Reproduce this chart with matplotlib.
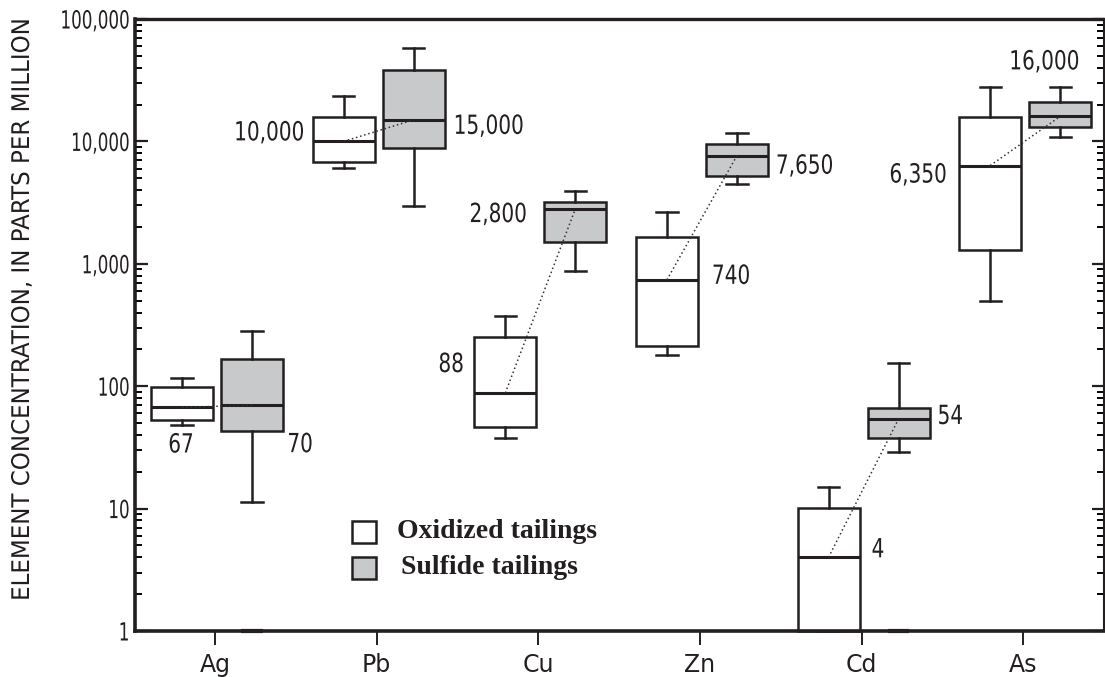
import matplotlib
matplotlib.use("Agg")
import matplotlib.pyplot as plt
from matplotlib.ticker import FixedLocator, LogLocator, NullFormatter
from matplotlib.patheffects import AbstractPathEffect
from matplotlib.transforms import Affine2D
from matplotlib.patches import Rectangle

# ---------------- data ----------------
elements = ['Ag', 'Pb', 'Cu', 'Zn', 'Cd', 'As']

ox_whislo = [48, 6100, 38, 180, 1, 500]
ox_q1 = [53, 6830, 46, 213, 1, 1300]
ox_med = [67, 10000, 88, 740, 4, 6350]
ox_q3 = [98, 15900, 251, 1645, 10.2, 15900]
ox_whishi = [116, 23600, 375, 2670, 15.1, 27700]

su_whislo = [11.4, 2980, 873, 4460, 28.8, 10800]
su_q1 = [43, 8790, 1517, 5210, 37.9, 13000]
su_med = [70, 15000, 2800, 7650, 54, 16000]
su_q3 = [166, 38300, 3210, 9530, 66.7, 21100]
su_whishi = [285, 57600, 3940, 11650, 154, 27700]

ox_labels = ['67', '10,000', '88', '740', '4', '6,350']
su_labels = ['70', '15,000', '2,800', '7,650', '54', '16,000']

# marks at the bottom of the scale (value 1)
floor_marks_sulfide = ['Ag', 'Cd']

yticks = [1, 10, 100, 1000, 10000, 100000]
ytick_labels = ['1', '10', '100', '1,000', '10,000', '100,000']

# ---------------- style ----------------
SANS = ['DejaVu Sans']
SERIF = ['Liberation Serif', 'DejaVu Serif']
GRAY = '#c8c9cb'
EDGE = '#231f20'


class Squeeze(AbstractPathEffect):
    """Draw text glyphs horizontally condensed (condensed-font look)."""

    def __init__(self, sx, anchor='left'):
        super().__init__()
        self.sx = sx
        self.anchor = anchor

    def draw_path(self, renderer, gc, tpath, affine, rgbFace=None):
        ext = tpath.get_extents()
        if self.anchor == 'right':
            a = ext.x1
        elif self.anchor == 'center':
            a = (ext.x0 + ext.x1) / 2
        else:
            a = 0
        t = Affine2D().translate(-a, 0).scale(self.sx, 1).translate(a, 0) + affine
        renderer.draw_path(gc, tpath, t, rgbFace)


fig = plt.figure(figsize=(11.05, 6.77), dpi=100)
ax = fig.add_axes([135 / 1105, 1 - 631 / 677, (1104 - 135) / 1105, (631 - 19) / 677])

OX_OFF, SU_OFF, WIDTH = -0.204, 0.229, 0.384


def stats(lo, q1, med, q3, hi):
    return [dict(whislo=a, q1=b, med=c, q3=d, whishi=e, fliers=[])
            for a, b, c, d, e in zip(lo, q1, med, q3, hi)]


ox_stats = stats(ox_whislo, ox_q1, ox_med, ox_q3, ox_whishi)
su_stats = stats(su_whislo, su_q1, su_med, su_q3, su_whishi)
xs = list(range(len(elements)))
ox_pos = [x + OX_OFF for x in xs]
su_pos = [x + SU_OFF for x in xs]

common = dict(widths=WIDTH, patch_artist=True, showfliers=False,
              whiskerprops=dict(color=EDGE, lw=1.8),
              capprops=dict(color=EDGE, lw=1.8),
              medianprops=dict(color=EDGE, lw=2.2),
              manage_ticks=False)
bo = ax.bxp(ox_stats, positions=ox_pos,
            boxprops=dict(facecolor='white', edgecolor=EDGE, lw=1.8), **common)
bs = ax.bxp(su_stats, positions=su_pos,
            boxprops=dict(facecolor=GRAY, edgecolor=EDGE, lw=1.8), **common)
for b in (bo, bs):
    for c in b['caps']:
        x0, x1 = c.get_xdata()
        m = (x0 + x1) / 2
        c.set_xdata([m - 0.066, m + 0.066])
    for c in b['caps'] + b['whiskers'] + b['medians'] + b['boxes']:
        c.set_clip_on(False)
    for m in b['medians']:
        m.set_zorder(4)

# dotted lines between medians
for i in xs:
    ax.plot([ox_pos[i], su_pos[i]], [ox_med[i], su_med[i]], ls=(0, (1.0, 1.8)),
            color='#333333', lw=1.1, zorder=5)

# floor marks
for el in floor_marks_sulfide:
    i = elements.index(el)
    ax.plot([su_pos[i] - 0.066, su_pos[i] + 0.066], [1, 1], color=EDGE, lw=3,
            clip_on=False, zorder=6, solid_capstyle='butt')

# median labels (offsets in pixels)
ox_off = [(-1, -38, 'center'), (-39, 8, 'right'), (-41, 28, 'right'),
          (45, 3, 'left'), (43, 7, 'left'), (-43, -10, 'right')]
su_off = [(48, -40, 'center'), (40, -7, 'left'), (-48, -6, 'right'),
          (39, -11, 'left'), (39, 2, 'left'), (-16, 54, 'center')]
for i in xs:
    for pos, med, lab, off in ((ox_pos[i], ox_med[i], ox_labels[i], ox_off[i]),
                               (su_pos[i], su_med[i], su_labels[i], su_off[i])):
        ax.annotate(lab, xy=(pos, med), xytext=(off[0], off[1]),
                    textcoords='offset pixels', ha=off[2], va='center',
                    fontsize=19, family=SANS, color=EDGE, zorder=7,
                    path_effects=[Squeeze(0.76, off[2])])

ax.set_yscale('log')
ax.set_ylim(1, 100000)
ax.set_xlim(-0.495, 5.5)
ax.yaxis.set_major_locator(FixedLocator(yticks))
ax.set_yticklabels(ytick_labels)
ax.yaxis.set_minor_locator(LogLocator(base=10, subs=range(2, 10)))
ax.yaxis.set_minor_formatter(NullFormatter())
ax.set_xticks(xs)
ax.set_xticklabels(elements)

ax.tick_params(axis='y', which='major', direction='in', length=9, width=1.6,
               left=True, right=True, labelsize=18, pad=3.5, colors=EDGE)
ax.tick_params(axis='y', which='minor', direction='in', length=5, width=1.4,
               left=True, right=True)
ax.tick_params(axis='x', which='major', direction='out', length=10, width=1.4,
               labelsize=17, pad=6, colors=EDGE)
for lab in ax.get_yticklabels():
    lab.set_family(SANS)
    lab.set_path_effects([Squeeze(0.67, 'right')])
for lab in ax.get_xticklabels():
    lab.set_family(SANS)

for s in ax.spines.values():
    s.set_color(EDGE)
ax.spines['left'].set_linewidth(2.6)
ax.spines['bottom'].set_linewidth(2.6)
ax.spines['top'].set_linewidth(2.4)
ax.spines['right'].set_linewidth(1.5)

fig.text(22 / 1105, 1 - 310 / 677, 'ELEMENT CONCENTRATION, IN PARTS PER MILLION',
         rotation=90, ha='center', va='center', fontsize=17.5, family=SANS,
         color=EDGE, path_effects=[Squeeze(0.945, 'center')])

# legend
for (y0, fc, text, tx) in ((521, 'white', 'Oxidized tailings', 397),
                           (557, GRAY, 'Sulfide tailings', 401)):
    fig.patches.append(Rectangle((352 / 1105, 1 - (y0 + 22) / 677), 24 / 1105, 22 / 677,
                                 transform=fig.transFigure, facecolor=fc,
                                 edgecolor=EDGE, lw=1.8))
    fig.text(tx / 1105, 1 - (y0 + 11) / 677, text, ha='left', va='center',
             fontsize=20, fontweight='bold', family=SERIF, color=EDGE)

fig.savefig('out.png', dpi=100)
